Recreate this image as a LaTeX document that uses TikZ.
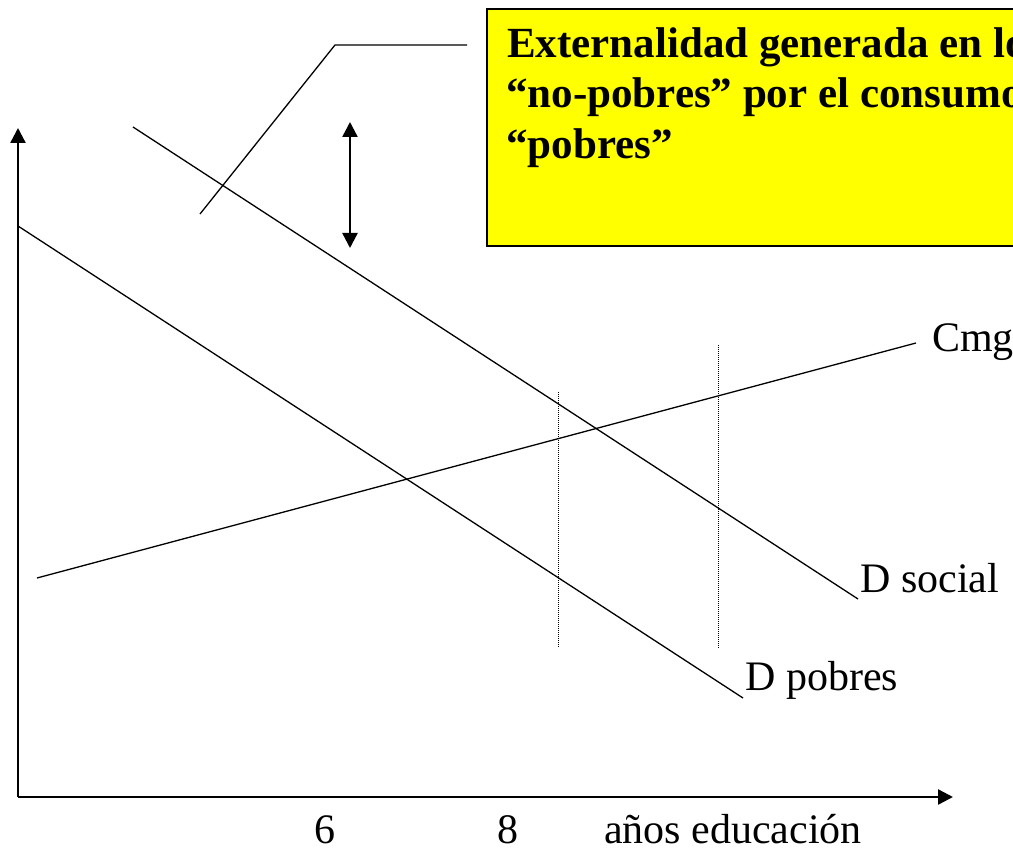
\documentclass[tikz,border=0pt]{standalone}
\usepackage{fontspec}
\setmainfont{Liberation Serif}
\usetikzlibrary{positioning}
\usetikzlibrary{arrows.meta}
\definecolor{boxyellow}{RGB}{255,255,0}
\tikzset{
    every picture/.style={>={Triangle[length=15pt,width=15pt]},auto},
}

\begin{document}
\begin{tikzpicture}[x=1pt,y=-1pt,
    axis/.style={line width=2.4pt},
    curve/.style={line width=1.3pt},
    guide/.style={line width=1pt,dash pattern=on 1pt off 1pt},
    lbl/.style={font=\fontsize{42}{51}\selectfont,inner sep=0pt},
    boldlbl/.style={lbl,font=\fontsize{43}{51}\selectfont\bfseries},
    extbox/.style={draw=black,fill=boxyellow,line width=1.8pt,inner sep=0pt}]
\useasboundingbox (0,0) rectangle (1013,853);
\clip (0,0) rectangle (1013,853);
\coordinate (O) at (18,797);
\coordinate (ytop) at (18,128);
\coordinate (xend) at (953,797);

\node[extbox,anchor=north west,minimum width=640pt,minimum height=237pt] (box) at (486,8) {};
\node[boldlbl,anchor=base west] (extA) at (507,58) {Externalidad generada en lo};
\node[boldlbl,anchor=base west] (extB) at (506,108) {“no-pobres” por el consumo};
\node[boldlbl,anchor=base west] (extC) at (506,159) {“pobres”};

\coordinate (lead1) at (200,214);
\coordinate (lead2) at (335,45);
\coordinate (lead3) at (467,45);
\draw[curve] (lead1) -- (lead2) -- (lead3);

\coordinate (gapT) at (350,122);
\coordinate (gapB) at (350,248);
\draw[axis,<->] (gapT) -- (gapB);

\draw[axis,->] (O) -- (ytop);
\draw[axis,->] (O) -- (xend);

\node[lbl,anchor=base west] (cmg) at (932,352) {Cmg};
\node[lbl,anchor=base west] (dsoc) at (860,592) {D social};
\node[lbl,anchor=base west] (dpob) at (745,690) {D pobres};

\coordinate (cmg0) at (37,578);
\coordinate (cmg1) at (916,343);
\coordinate (dsoc0) at (133,127);
\coordinate (dsoc1) at (858,599);
\coordinate (dpob0) at (18,226);
\coordinate (dpob1) at (743,698);
\draw[curve] (cmg0) -- (cmg1);
\draw[curve] (dsoc0) -- (dsoc1);
\draw[curve] (dpob0) -- (dpob1);

\coordinate (six0) at (558,392);
\coordinate (six1) at (558,648);
\coordinate (eight0) at (718,345);
\coordinate (eight1) at (718,648);
\draw[guide] (six0) -- (six1);
\draw[guide] (eight0) -- (eight1);

\node[lbl,anchor=base] (six) at (325,843) {6};
\node[lbl,anchor=base] (eight) at (508,843) {8};
\node[lbl,anchor=base west] (xlbl) at (604,843) {años educación};
\end{tikzpicture}
\end{document}
